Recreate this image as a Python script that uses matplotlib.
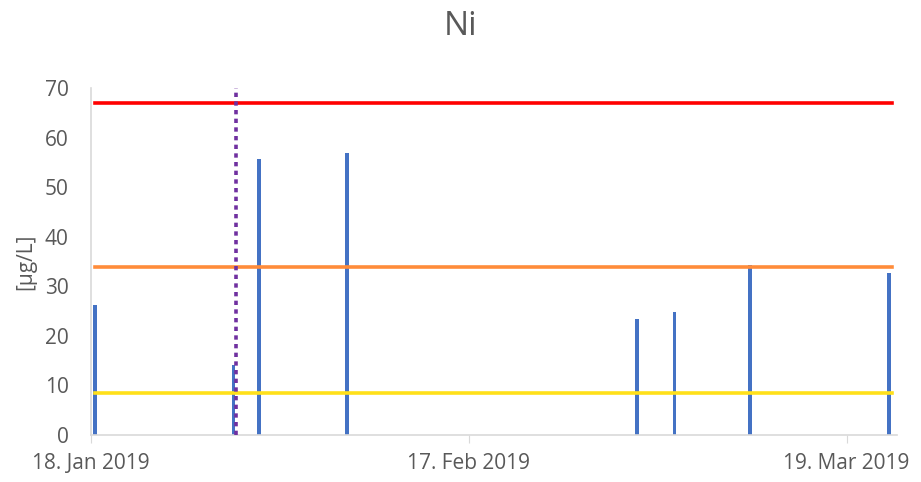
import matplotlib
matplotlib.use("Agg")
import matplotlib.pyplot as plt
from datetime import datetime, timedelta

# Ni measurements (sampling at 08:00)
sample_dates = ["2019-01-18", "2019-01-29", "2019-01-31", "2019-02-07",
                "2019-03-02", "2019-03-05", "2019-03-11", "2019-03-22"]
ni_values = [26.2, 14.1, 55.8, 57.0, 23.4, 24.9, 34.3, 32.8]

# threshold levels
limit_red = 67
limit_orange = 34
limit_yellow = 8.4

event_date = "2019-01-29 13:40"
tick_dates = ["2019-01-18", "2019-02-17", "2019-03-19"]
tick_labels = ["18. Jan 2019", "17. Feb 2019", "19. Mar 2019"]

plt.rcParams["font.family"] = ["Open Sans", "DejaVu Sans"]
TXT = "#595959"

fig = plt.figure(figsize=(9.21, 4.82), dpi=100)
ax = fig.add_axes([0.0985, 0.0975, 0.8755, 0.7195])

xs = [datetime.strptime(d, "%Y-%m-%d") + timedelta(hours=8) for d in sample_dates]
ax.bar(xs, ni_values, width=0.3, color="#4472C4", zorder=2)

x0, x1 = xs[0], xs[-1] + timedelta(hours=6)
ax.plot([x0, x1], [limit_red] * 2, color="#FF0000", lw=2.6, zorder=3)
ax.plot([x0, x1], [limit_orange] * 2, color="#FF8C3A", lw=2.6, zorder=3)
ax.plot([x0, x1], [limit_yellow] * 2, color="#FFE01A", lw=2.6, zorder=3)

ev = datetime.strptime(event_date, "%Y-%m-%d %H:%M")
ax.plot([ev, ev], [0, 70], color="#7030A0", lw=2.6, ls=(0, (1.2, 1.2)), zorder=4)

ax.set_xlim(datetime(2019, 1, 18), datetime(2019, 3, 23))
ax.set_ylim(0, 70)
ax.set_yticks(range(0, 71, 10))
ax.set_xticks([datetime.strptime(d, "%Y-%m-%d") for d in tick_dates])
ax.set_xticklabels(tick_labels)

for s in ("top", "right"):
    ax.spines[s].set_visible(False)
ax.spines["left"].set_color("#D9D9D9")
ax.spines["bottom"].set_color("#D9D9D9")
ax.spines["left"].set_linewidth(1.2)
ax.spines["bottom"].set_linewidth(1.2)
ax.tick_params(axis="y", length=0, pad=16, labelsize=15, labelcolor=TXT)
ax.tick_params(axis="x", length=6, color="#D9D9D9", pad=7, labelsize=15, labelcolor=TXT)

ax.set_ylabel("[µg/L]", fontsize=15, color=TXT, labelpad=6)
fig.suptitle("Ni", fontsize=24, color=TXT, y=0.98)

fig.savefig("out.png", dpi=100)
